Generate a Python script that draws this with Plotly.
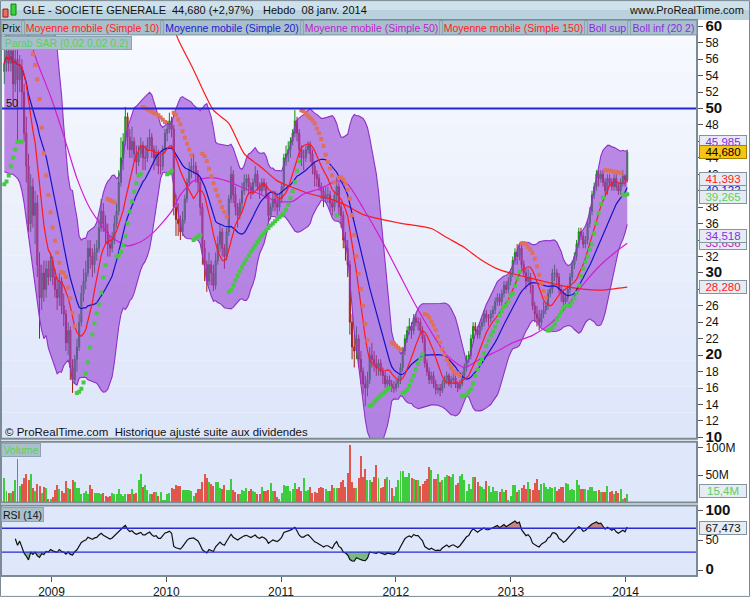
import numpy as np
import pandas as pd
import plotly.graph_objects as go
from plotly.subplots import make_subplots

# ---------------- weekly data ----------------
last_week = "2014-01-06"

opens = [
    54.5, 55.5, 57.0, 55.5, 57.0, 53.0, 56.0, 53.5, 55.0, 52.0,
    47.0, 43.0, 36.0, 40.5, 37.0, 38.5, 31.0, 27.0, 30.0, 28.0,
    30.5, 29.5, 31.5, 29.5, 28.0, 27.0, 29.0, 26.0, 25.0, 21.5,
    23.0, 18.5, 17.0, 19.5, 21.0, 24.0, 27.5, 29.0, 30.0, 33.0,
    32.0, 31.0, 32.5, 33.0, 35.5, 37.5, 36.0, 35.0, 33.5, 33.0,
    34.0, 36.0, 37.5, 41.0, 44.0, 46.0, 49.0, 46.5, 45.0, 46.0,
    44.5, 43.5, 44.5, 45.5, 44.0, 44.0, 45.5, 46.5, 45.0, 44.0,
    44.5, 43.0, 43.0, 45.0, 47.0, 47.5, 48.5, 47.5, 38.0, 36.5,
    36.0, 35.0, 36.5, 39.0, 41.0, 42.5, 43.0, 43.0, 42.0, 41.0,
    38.0, 33.0, 31.0, 29.0, 31.0, 30.0, 28.5, 31.5, 33.5, 35.0,
    33.0, 32.0, 35.0, 39.0, 42.0, 39.5, 38.0, 37.0, 38.5, 40.0,
    41.0, 41.5, 40.5, 40.0, 41.0, 42.0, 40.5, 40.0, 41.0, 40.5,
    39.5, 37.0, 38.0, 39.0, 38.5, 38.0, 39.0, 40.5, 44.0, 44.5,
    45.0, 46.0, 47.0, 48.5, 47.0, 45.0, 44.0, 44.0, 45.0, 45.5,
    44.5, 43.0, 42.0, 41.5, 40.5, 40.0, 39.0, 39.5, 39.5, 38.5,
    38.0, 39.5, 40.5, 38.0, 37.0, 34.0, 33.0, 31.0, 24.0, 21.0,
    20.5, 22.0, 19.5, 18.0, 16.5, 16.0, 17.0, 20.0, 19.5, 19.0,
    18.5, 19.0, 18.0, 17.5, 16.5, 17.0, 16.5, 16.0, 16.0, 16.5,
    17.0, 18.5, 20.5, 22.0, 23.0, 23.5, 23.0, 24.5, 24.0, 24.0,
    23.0, 22.0, 19.0, 18.0, 17.0, 17.5, 16.5, 15.8, 16.0, 15.7,
    16.5, 17.0, 17.5, 16.5, 17.0, 17.2, 16.5, 16.0, 16.5, 17.5,
    18.5, 19.5, 20.0, 22.0, 23.5, 23.0, 22.5, 23.5, 24.0, 25.0,
    24.5, 24.5, 25.0, 25.5, 26.5, 27.0, 26.5, 27.5, 28.5, 28.0,
    29.0, 30.0, 31.5, 32.5, 32.0, 33.0, 31.0, 30.0, 29.0, 29.5,
    28.5, 26.0, 25.0, 24.5, 24.0, 25.0, 25.5, 26.0, 27.5, 28.0,
    30.0, 30.0, 29.5, 28.0, 27.5, 26.5, 27.0, 28.0, 29.5, 31.0,
    32.0, 33.5, 35.0, 34.5, 33.5, 34.0, 36.0, 37.5, 39.5, 40.5,
    42.0, 41.5, 42.0, 41.0, 40.0, 41.5, 41.0, 40.5, 41.5, 40.5,
    40.0, 41.0, 41.8, 41.3,
]
highs = [
    57.5, 59.0, 60.5, 58.5, 58.0, 58.0, 57.5, 56.5, 56.0, 53.0,
    49.0, 44.5, 42.0, 41.5, 40.0, 39.5, 32.5, 31.0, 31.5, 31.5,
    31.5, 32.5, 32.0, 30.5, 29.5, 30.0, 29.5, 27.5, 25.5, 24.0,
    23.5, 19.5, 20.0, 22.0, 25.0, 28.5, 30.5, 31.5, 34.0, 34.0,
    33.0, 33.5, 34.0, 36.5, 39.0, 38.5, 37.0, 36.0, 34.5, 35.0,
    37.0, 38.5, 42.5, 46.5, 47.0, 50.2, 49.5, 47.5, 47.8, 46.5,
    45.5, 45.5, 46.5, 46.0, 45.5, 46.5, 47.5, 47.0, 45.5, 45.5,
    45.0, 44.5, 45.5, 47.5, 48.5, 49.5, 49.0, 48.0, 39.5, 38.5,
    37.0, 37.5, 39.5, 41.5, 43.5, 44.0, 44.5, 43.5, 42.5, 41.5,
    38.5, 34.0, 31.5, 32.5, 31.5, 31.0, 32.5, 34.5, 36.0, 35.5,
    33.5, 35.5, 39.5, 43.0, 42.5, 40.5, 38.5, 39.0, 41.0, 42.0,
    42.0, 42.0, 41.0, 41.5, 43.0, 42.5, 41.0, 41.5, 41.5, 41.0,
    39.5, 38.5, 40.0, 40.0, 39.5, 39.5, 41.0, 44.5, 45.5, 46.0,
    46.5, 47.5, 49.8, 49.0, 47.5, 45.5, 45.0, 45.5, 46.0, 46.0,
    45.0, 43.5, 42.5, 42.0, 41.0, 40.5, 40.5, 40.5, 40.0, 39.0,
    40.0, 41.6, 41.0, 38.5, 37.5, 35.0, 34.0, 31.5, 25.0, 22.5,
    23.5, 22.5, 20.5, 18.5, 17.5, 18.0, 21.0, 21.5, 20.5, 20.0,
    19.5, 19.5, 18.5, 18.0, 17.5, 17.5, 17.0, 16.8, 17.0, 17.5,
    19.0, 21.0, 22.5, 23.5, 24.5, 24.0, 25.0, 25.0, 24.6, 24.5,
    23.5, 22.5, 19.5, 18.5, 18.0, 18.0, 17.0, 16.5, 16.5, 17.0,
    17.5, 18.0, 17.8, 17.5, 17.8, 17.5, 16.8, 17.0, 18.0, 19.0,
    20.0, 20.5, 22.5, 24.0, 24.0, 23.5, 24.0, 24.5, 25.5, 25.5,
    25.0, 25.5, 26.0, 27.0, 27.5, 27.5, 28.0, 29.0, 29.0, 29.5,
    30.5, 32.0, 33.0, 33.5, 33.6, 33.5, 31.5, 30.5, 30.5, 30.0,
    28.5, 26.5, 26.0, 25.5, 25.5, 26.5, 26.5, 28.0, 28.5, 30.5,
    31.0, 30.5, 30.0, 28.5, 28.0, 27.5, 28.5, 30.0, 31.5, 32.5,
    34.0, 35.5, 35.5, 35.0, 34.5, 36.5, 38.0, 40.0, 41.0, 42.5,
    42.5, 42.5, 42.5, 41.5, 42.0, 42.0, 41.5, 42.0, 42.0, 41.0,
    41.5, 42.5, 42.0, 45.0,
]
lows = [
    53.0, 54.5, 54.5, 54.5, 51.0, 52.0, 46.0, 52.0, 50.0, 46.0,
    41.0, 35.0, 35.0, 35.5, 33.5, 29.5, 22.0, 25.5, 26.5, 27.0,
    28.5, 29.0, 28.5, 27.0, 25.5, 26.0, 25.0, 23.5, 20.5, 20.0,
    17.0, 15.4, 16.5, 18.0, 20.5, 23.5, 26.5, 28.0, 29.5, 30.5,
    29.5, 30.0, 31.5, 32.5, 35.0, 35.0, 33.5, 32.0, 32.0, 32.5,
    33.5, 35.5, 37.0, 40.5, 42.5, 45.5, 45.0, 44.0, 44.0, 43.5,
    42.0, 43.0, 44.0, 42.5, 42.5, 43.5, 45.0, 44.0, 42.5, 43.0,
    42.0, 42.0, 42.5, 44.5, 46.0, 47.0, 46.5, 37.0, 34.5, 34.5,
    34.0, 34.5, 36.0, 38.5, 40.5, 41.5, 42.0, 41.0, 40.0, 37.0,
    31.0, 29.0, 27.7, 28.5, 28.5, 27.8, 28.0, 31.0, 32.5, 32.0,
    30.5, 31.5, 34.5, 38.5, 38.5, 37.0, 35.5, 36.5, 37.5, 39.5,
    40.0, 39.5, 39.0, 39.5, 40.5, 40.0, 39.0, 39.5, 40.0, 39.0,
    36.0, 36.5, 37.5, 37.5, 37.0, 37.5, 38.5, 40.0, 43.0, 43.5,
    44.0, 45.5, 46.5, 46.0, 44.0, 43.0, 42.5, 43.5, 44.5, 43.5,
    42.0, 40.5, 40.5, 40.0, 39.0, 38.0, 38.5, 38.5, 37.5, 37.0,
    37.5, 38.5, 37.0, 35.5, 33.0, 31.5, 29.5, 22.5, 19.5, 18.5,
    19.5, 18.5, 16.5, 15.2, 13.8, 15.0, 16.5, 18.5, 18.0, 17.5,
    17.5, 17.5, 16.5, 16.0, 16.0, 16.0, 15.5, 15.4, 15.6, 16.0,
    16.5, 18.0, 20.0, 21.5, 22.5, 22.0, 22.5, 23.5, 23.0, 22.5,
    21.5, 18.5, 17.5, 16.5, 16.5, 16.0, 15.2, 15.3, 15.0, 15.4,
    16.0, 16.5, 16.2, 16.0, 16.5, 16.0, 15.5, 15.8, 16.2, 17.0,
    18.0, 19.0, 19.5, 21.5, 22.5, 22.0, 22.0, 23.0, 23.5, 24.0,
    23.5, 24.0, 24.5, 25.0, 26.0, 26.0, 26.0, 27.0, 27.5, 27.5,
    28.5, 29.5, 31.0, 31.0, 31.5, 30.5, 29.5, 28.0, 28.5, 27.5,
    25.5, 24.0, 23.5, 23.0, 23.5, 24.5, 25.0, 25.5, 27.0, 27.5,
    29.0, 28.5, 27.5, 26.5, 26.0, 26.0, 26.5, 27.5, 29.0, 30.5,
    31.5, 33.0, 34.0, 33.0, 33.0, 33.5, 35.5, 37.0, 39.0, 40.0,
    40.5, 41.0, 40.5, 39.5, 39.5, 40.5, 40.0, 40.0, 40.0, 39.5,
    39.5, 40.5, 40.5, 41.0,
]
closes = [
    55.5, 57.0, 55.5, 57.0, 53.0, 56.0, 53.5, 55.0, 52.0, 47.0,
    43.0, 36.0, 40.5, 37.0, 38.5, 31.0, 27.0, 30.0, 28.0, 30.5,
    29.5, 31.5, 29.5, 28.0, 27.0, 29.0, 26.0, 25.0, 21.5, 23.0,
    18.5, 17.0, 19.5, 21.0, 24.0, 27.5, 29.0, 30.0, 33.0, 32.0,
    31.0, 32.5, 33.0, 35.5, 37.5, 36.0, 35.0, 33.5, 33.0, 34.0,
    36.0, 37.5, 41.0, 44.0, 46.0, 49.0, 46.5, 45.0, 46.0, 44.5,
    43.5, 44.5, 45.5, 44.0, 44.0, 45.5, 46.5, 45.0, 44.0, 44.5,
    43.0, 43.0, 45.0, 47.0, 47.5, 48.5, 47.5, 38.0, 36.5, 36.0,
    35.0, 36.5, 39.0, 41.0, 42.5, 43.0, 43.0, 42.0, 41.0, 38.0,
    33.0, 31.0, 29.0, 31.0, 30.0, 28.5, 31.5, 33.5, 35.0, 33.0,
    32.0, 35.0, 39.0, 42.0, 39.5, 38.0, 37.0, 38.5, 40.0, 41.0,
    41.5, 40.5, 40.0, 41.0, 42.0, 40.5, 40.0, 41.0, 40.5, 39.5,
    37.0, 38.0, 39.0, 38.5, 38.0, 39.0, 40.5, 44.0, 44.5, 45.0,
    46.0, 47.0, 48.5, 47.0, 45.0, 44.0, 44.0, 45.0, 45.5, 44.5,
    43.0, 42.0, 41.5, 40.5, 40.0, 39.0, 39.5, 39.5, 38.5, 38.0,
    39.5, 40.5, 38.0, 37.0, 34.0, 33.0, 31.0, 24.0, 21.0, 20.5,
    22.0, 19.5, 18.0, 16.5, 16.0, 17.0, 20.0, 19.5, 19.0, 18.5,
    19.0, 18.0, 17.5, 16.5, 17.0, 16.5, 16.0, 16.0, 16.5, 17.0,
    18.5, 20.5, 22.0, 23.0, 23.5, 23.0, 24.5, 24.0, 24.0, 23.0,
    22.0, 19.0, 18.0, 17.0, 17.5, 16.5, 15.8, 16.0, 15.7, 16.5,
    17.0, 17.5, 16.5, 17.0, 17.2, 16.5, 16.0, 16.5, 17.5, 18.5,
    19.5, 20.0, 22.0, 23.5, 23.0, 22.5, 23.5, 24.0, 25.0, 24.5,
    24.5, 25.0, 25.5, 26.5, 27.0, 26.5, 27.5, 28.5, 28.0, 29.0,
    30.0, 31.5, 32.5, 32.0, 33.0, 31.0, 30.0, 29.0, 29.5, 28.5,
    26.0, 25.0, 24.5, 24.0, 25.0, 25.5, 26.0, 27.5, 28.0, 30.0,
    30.0, 29.5, 28.0, 27.5, 26.5, 27.0, 28.0, 29.5, 31.0, 32.0,
    33.5, 35.0, 34.5, 33.5, 34.0, 36.0, 37.5, 39.5, 40.5, 42.0,
    41.5, 42.0, 41.0, 40.0, 41.5, 41.0, 40.5, 41.5, 40.5, 40.0,
    41.0, 41.8, 41.3, 44.68,
]
volumes_millions = [
    45, 22, 18, 18, 22, 41, 80, 31, 35, 45, 53, 41, 53, 27, 22, 35, 31, 18, 28, 27,
    7, 6, 11, 24, 33, 25, 22, 18, 39, 27, 25, 41, 38, 27, 27, 16, 18, 22, 16, 33,
    25, 18, 18, 18, 15, 18, 13, 11, 13, 18, 15, 15, 25, 15, 13, 15, 16, 15, 25, 15,
    18, 42, 53, 28, 33, 24, 16, 16, 20, 20, 13, 20, 5, 4, 15, 18, 27, 25, 33, 30,
    30, 24, 24, 24, 23, 22, 13, 18, 25, 25, 38, 53, 45, 38, 35, 31, 38, 38, 27, 25,
    33, 24, 24, 44, 24, 20, 16, 16, 23, 22, 27, 22, 25, 22, 20, 15, 16, 28, 21, 21,
    24, 36, 22, 21, 11, 6, 18, 33, 30, 30, 22, 25, 36, 25, 28, 22, 45, 22, 24, 28,
    18, 20, 18, 27,
    28, 27, 25, 22, 22, 33, 27, 27, 27, 38, 42, 29, 55, 106, 38, 27, 27, 45, 86, 47,
    62, 41, 42, 38, 47, 68, 45, 27, 29, 44, 47, 41, 27, 13, 29, 41, 58, 57, 47, 47,
    55, 45, 44, 42, 41, 31, 35, 39, 44, 66, 59, 44, 44, 52, 38, 42, 47, 51, 49, 47,
    53, 33, 36, 49, 53, 41, 22, 35, 25, 47, 47, 38, 30, 28, 25, 40, 30, 20, 29, 22,
    22, 20, 25, 20, 24, 5, 13, 33, 33, 20, 24, 27, 33, 25, 38, 25, 24, 36, 44, 24,
    35, 36, 29, 25, 29, 27, 29, 22, 25, 29, 29, 36, 35, 24, 25, 24, 42, 33, 25, 25,
    25, 24, 29, 29, 22, 22, 24, 20, 20, 20, 31, 20, 22, 16, 22, 18, 25, 7, 9, 16,
]

# Bollinger band before 20 weeks of history exist
bb_upper_start = [64.0, 64.5, 65.0, 65.5, 66.0, 66.0, 66.5, 66.5, 67.0, 67.0,
                  67.5, 67.5, 68.0, 68.0, 68.0, 67.5, 67.5, 67.0, 66.5]
bb_lower_start = [42.3, 42.2, 42.1, 42.0, 42.0, 41.8, 41.5, 41.0, 40.0, 38.5,
                  36.5, 34.5, 32.0, 30.0, 28.0, 26.0, 24.5, 23.0, 22.0]

# long moving averages (week index, value)
ma50_week_index = [0, 8, 13, 15, 21, 27, 33, 39, 48, 56, 62, 68, 76, 80, 86, 94, 101,
                   109, 116, 124, 131, 136, 144, 151, 156, 163, 171, 179, 186, 194,
                   201, 209, 216, 224, 231, 240, 248, 256, 263, 271, 278, 283]
ma50_values = [64.0, 61.0, 57.2, 55.6, 51.5, 46.7, 41.5, 37.8, 34.5, 33.3, 33.8, 35.0,
               37.5, 39.5, 41.2, 41.6, 41.2, 40.3, 39.6, 38.7, 38.7, 39.6, 40.3, 41.2,
               40.8, 37.9, 34.2, 30.1, 26.5, 22.8, 20.0, 18.5, 19.5, 20.5, 21.5, 22.4,
               23.8, 26.1, 28.6, 31.0, 32.6, 33.6]
ma150_week_index = [71, 76, 79, 86, 95, 102, 109, 117, 124, 132, 139, 147, 154, 163,
                    179, 194, 201, 209, 216, 224, 231, 240, 256, 270, 283]
ma150_values = [63.0, 60.5, 58.4, 54.7, 49.8, 48.2, 44.5, 42.8, 41.2, 40.3, 39.6, 39.1,
                38.4, 37.1, 36.1, 35.4, 34.3, 33.1, 31.7, 30.5, 29.9, 29.3, 28.3, 27.9, 28.28]

sar_first_value = 40.8

year_ticks = ["2009-01-01", "2010-01-01", "2011-01-01", "2012-01-01", "2013-01-01", "2014-01-01"]
year_labels = ["2009", "2010", "2011", "2012", "2013", "2014"]
price_ticks = list(range(10, 61, 2))
volume_ticks = [50e6, 100e6]
volume_tick_labels = ["50M", "100M"]
rsi_ticks = [0, 50, 100]

label_texts = ["45,985", "40,122", "33,636", "44,680", "41,393", "39,265", "34,518", "28,280"]
label_levels = [45.985, 40.122, 33.636, 44.68, 41.393, 39.265, 34.518, 28.28]
label_colors = ["#8a2be2", "#2020c0", "#c020c0", "#000000", "#ff2020", "#5ad05a", "#8a2be2", "#ff2020"]

# ---------------- indicators ----------------
n = len(closes)
dates = pd.date_range(end=last_week, periods=n, freq="7D")
c = pd.Series(closes, dtype=float)
o = np.array(opens, dtype=float)
h = np.array(highs, dtype=float)
l = np.array(lows, dtype=float)

ma10 = c.rolling(10, min_periods=1).mean()
ma20 = c.rolling(20, min_periods=1).mean()
std20 = c.rolling(20).std(ddof=0)
bb_up = (c.rolling(20).mean() + 2 * std20).to_numpy()
bb_lo = (c.rolling(20).mean() - 2 * std20).to_numpy()
k = len(bb_upper_start)
bb_up[:k] = bb_upper_start
bb_lo[:k] = bb_lower_start


def parabolic_sar(hi, lo, first, step=0.02, mx=0.2):
    sar = [first]
    up = [True]
    long_ = True
    af = step
    ep = hi[0]
    for i in range(1, len(hi)):
        prev = sar[-1]
        s = prev + af * (ep - prev)
        if long_:
            s = min(s, lo[i - 1], lo[i - 2] if i > 1 else lo[i - 1])
            if lo[i] < s:
                long_ = False
                s = ep
                ep = lo[i]
                af = step
            elif hi[i] > ep:
                ep = hi[i]
                af = min(af + step, mx)
        else:
            s = max(s, hi[i - 1], hi[i - 2] if i > 1 else hi[i - 1])
            if hi[i] > s:
                long_ = True
                s = ep
                ep = hi[i]
                af = step
            elif lo[i] < ep:
                ep = lo[i]
                af = min(af + step, mx)
        sar.append(s)
        up.append(long_)
    return np.array(sar), np.array(up)


sar, sar_up = parabolic_sar(h, l, sar_first_value)

delta = c.diff()
gain = delta.clip(lower=0)
loss = (-delta).clip(lower=0)
ag = gain.ewm(alpha=1 / 14, adjust=True, min_periods=5).mean()
al = loss.ewm(alpha=1 / 14, adjust=True, min_periods=5).mean()
rsi = (100 - 100 / (1 + ag / al)).to_numpy()

vol = np.array(volumes_millions, dtype=float) * 1e6
up_candle = c.to_numpy() >= o
vol_colors = np.where(up_candle, "#3ccc3c", "#e0564a")

# ---------------- figure ----------------
PL, PR, PT, PB = 1, 697, 20, 580


def fx(px):
    return (px - PL) / (PR - PL)


def fy(py):
    return (PB - py) / (PB - PT)


fig = make_subplots(rows=3, cols=1, shared_xaxes=True, vertical_spacing=0.01)

# Bollinger bands
fig.add_trace(go.Scatter(x=dates, y=bb_up, mode="lines", line=dict(color="#9030c8", width=1.1),
                         hoverinfo="skip"), row=1, col=1)
fig.add_trace(go.Scatter(x=dates, y=bb_lo, mode="lines", line=dict(color="#9030c8", width=1.1),
                         fill="tonexty", fillcolor="rgba(148,64,212,0.6)", hoverinfo="skip"), row=1, col=1)

# candles
fig.add_trace(go.Candlestick(
    x=dates, open=o, high=h, low=l, close=c,
    increasing=dict(line=dict(color="#0f8a0f", width=1), fillcolor="#3cd23c"),
    decreasing=dict(line=dict(color="#a01e16", width=1), fillcolor="#e8705e"),
    whiskerwidth=0, hoverinfo="skip"), row=1, col=1)

# moving averages
fig.add_trace(go.Scatter(x=dates[ma150_week_index], y=ma150_values, mode="lines",
                         line=dict(color="#ff1a1a", width=1.2, shape="spline", smoothing=0.6)), row=1, col=1)
fig.add_trace(go.Scatter(x=dates[ma50_week_index], y=ma50_values, mode="lines",
                         line=dict(color="#d21ed2", width=1.2, shape="spline", smoothing=0.6)), row=1, col=1)
fig.add_trace(go.Scatter(x=dates, y=ma20, mode="lines", line=dict(color="#1414c8", width=1.2)), row=1, col=1)
fig.add_trace(go.Scatter(x=dates, y=ma10, mode="lines", line=dict(color="#ff1a1a", width=1.2)), row=1, col=1)

# parabolic SAR
fig.add_trace(go.Scatter(x=dates, y=sar, mode="markers",
                         marker=dict(symbol="square", size=4,
                                     color=np.where(sar_up, "#46c846", "#e0705e"), line=dict(width=0))),
              row=1, col=1)

# volume
fig.add_trace(go.Bar(x=dates, y=vol, marker=dict(color=vol_colors, line=dict(width=0)),
                     width=7 * 24 * 3600 * 1000 * 0.45), row=2, col=1)

# RSI with over-bought / over-sold shading
fig.add_trace(go.Scatter(x=dates, y=np.full(n, 30.0), mode="lines", line=dict(width=0), hoverinfo="skip"),
              row=3, col=1)
fig.add_trace(go.Scatter(x=dates, y=np.minimum(rsi, 30), mode="lines", line=dict(width=0),
                         fill="tonexty", fillcolor="rgba(90,170,90,0.75)", hoverinfo="skip"), row=3, col=1)
fig.add_trace(go.Scatter(x=dates, y=np.full(n, 70.0), mode="lines", line=dict(width=0), hoverinfo="skip"),
              row=3, col=1)
fig.add_trace(go.Scatter(x=dates, y=np.maximum(rsi, 70), mode="lines", line=dict(width=0),
                         fill="tonexty", fillcolor="rgba(190,110,110,0.8)", hoverinfo="skip"), row=3, col=1)
fig.add_trace(go.Scatter(x=dates, y=rsi, mode="lines", line=dict(color="#111111", width=1.2)), row=3, col=1)

xr = [dates[0] - pd.Timedelta(days=10.5), dates[0] + pd.Timedelta(days=7 * 314.7)]


def bold_big(v):
    return '<span style="font-size:15px"><b>%d</b></span>' % v


price_text = [bold_big(v) if v % 10 == 0 else str(v) for v in price_ticks]
rsi_text = [bold_big(v) if v != 50 else str(v) for v in rsi_ticks]

axis_common = dict(showgrid=False, zeroline=False, showline=False)
fig.update_xaxes(rangeslider_visible=False, range=xr, **axis_common)
fig.update_xaxes(showticklabels=False, ticks="", row=1, col=1)
fig.update_xaxes(showticklabels=False, ticks="", row=2, col=1)
fig.update_xaxes(tickvals=year_ticks, ticktext=year_labels, ticks="outside", ticklen=5,
                 tickcolor="#555", tickfont=dict(size=12, color="#111"), row=3, col=1)

fig.update_layout(
    width=750, height=600,
    margin=dict(l=PL, r=750 - PR, t=PT, b=600 - PB),
    paper_bgcolor="white", plot_bgcolor="rgba(0,0,0,0)",
    showlegend=False, bargap=0,
    font=dict(family="Liberation Sans, Arial, sans-serif", size=12, color="#111"),
    yaxis=dict(domain=[fy(441), 1], side="right", range=[9.83, 60.77], tickvals=price_ticks,
               ticktext=price_text, ticks="outside", ticklen=5, tickcolor="#555", **axis_common),
    yaxis2=dict(domain=[fy(505), fy(444)], side="right", range=[0, 110.9e6], tickvals=volume_ticks,
                ticktext=volume_tick_labels, ticks="outside", ticklen=5, tickcolor="#555", **axis_common),
    yaxis3=dict(domain=[fy(579), fy(508)], side="right", range=[-10, 108.3], tickvals=rsi_ticks,
                ticktext=rsi_text, ticks="outside", ticklen=5, tickcolor="#555", **axis_common),
)

shapes = []
# price panel gradient background
top_col = np.array([248, 250, 255])
bot_col = np.array([222, 230, 250])
bands = 16
for b in range(bands):
    t = (b + 0.5) / bands
    col = (top_col * (1 - t) + bot_col * t).astype(int)
    y0 = 20 + (441 - 20) * b / bands
    y1 = 20 + (441 - 20) * (b + 1) / bands
    shapes.append(dict(type="rect", xref="paper", yref="paper", x0=0, x1=1, y0=fy(y1), y1=fy(y0),
                       fillcolor="rgb(%d,%d,%d)" % tuple(col), line=dict(width=0), layer="below"))
for (a, bb) in [(444, 505), (508, 579)]:
    shapes.append(dict(type="rect", xref="paper", yref="paper", x0=0, x1=1, y0=fy(bb), y1=fy(a),
                       fillcolor="#dfe7fb", line=dict(width=0), layer="below"))
# header bar
shapes.append(dict(type="rect", xref="paper", yref="paper", x0=fx(0), x1=fx(750), y0=fy(10), y1=fy(0),
                   fillcolor="#cfe1ea", line=dict(width=0), layer="below"))
shapes.append(dict(type="rect", xref="paper", yref="paper", x0=fx(0), x1=fx(750), y0=fy(20), y1=fy(10),
                   fillcolor="#b9d2de", line=dict(width=0), layer="below"))
# legend rows background
shapes.append(dict(type="rect", xref="paper", yref="paper", x0=fx(0), x1=fx(697), y0=fy(35), y1=fy(20),
                   fillcolor="#a9c0cc", line=dict(color="#7d96a3", width=1), layer="above"))
# icon
shapes.append(dict(type="rect", xref="paper", yref="paper", x0=fx(3), x1=fx(8), y0=fy(17), y1=fy(9),
                   fillcolor="#e8705e", line=dict(color="#9a1a14", width=1)))
shapes.append(dict(type="rect", xref="paper", yref="paper", x0=fx(11), x1=fx(16), y0=fy(15), y1=fy(4),
                   fillcolor="#3cd23c", line=dict(color="#0f7f0f", width=1)))
# 50 line and RSI levels
shapes.append(dict(type="line", xref="paper", yref="y", x0=0, x1=1, y0=50, y1=50,
                   line=dict(color="#2424d4", width=2)))
for lv in (70, 30):
    shapes.append(dict(type="line", xref="paper", yref="y3", x0=0, x1=1, y0=lv, y1=lv,
                       line=dict(color="#2b2bd0", width=1.4)))
# panel borders
for (a, bb) in [(20, 441), (444, 505), (508, 579)]:
    shapes.append(dict(type="rect", xref="paper", yref="paper", x0=0, x1=1, y0=fy(bb), y1=fy(a),
                       line=dict(color="#7b8b96", width=2), fillcolor="rgba(0,0,0,0)", layer="above"))
shapes.append(dict(type="rect", xref="paper", yref="paper", x0=fx(0.5), x1=fx(749.5), y0=fy(599.5), y1=fy(0.5),
                   line=dict(color="#7b8b96", width=1), fillcolor="rgba(0,0,0,0)", layer="above"))
fig.update_layout(shapes=shapes)

ann = []


def txt(px, py, text, size=12, color="#111", xanchor="left", **kw):
    ann.append(dict(x=fx(px), y=fy(py), xref="paper", yref="paper", text=text, showarrow=False,
                    xanchor=xanchor, yanchor="middle", font=dict(size=size, color=color), **kw))


txt(21, 10, "GLE - SOCIETE GENERALE", size=11)
txt(170, 10, "44,680 (+2,97%)", size=11)
txt(261, 10, "Hebdo  08 janv. 2014", size=11)
txt(746, 10, "www.ProRealTime.com", size=11, xanchor="right")


def button(px0, px1, py0, py1, text, color):
    ann.append(dict(x=fx(px0), y=fy((py0 + py1) / 2), xref="paper", yref="paper", text=text,
                    showarrow=False, xanchor="left", yanchor="middle", align="center",
                    width=px1 - px0 - 2, height=py1 - py0 - 2, borderpad=0,
                    bgcolor="#a9c0cc", bordercolor="#8ba4b1", borderwidth=1,
                    font=dict(size=10.5, color=color)))


button(1, 22, 20, 35, "Prix", "#111")
button(24, 161, 20, 35, "Moyenne mobile (Simple 10)", "#ff2020")
button(163, 301, 20, 35, "Moyenne mobile (Simple 20)", "#2020d0")
button(303, 440, 20, 35, "Moyenne mobile (Simple 50)", "#c020d0")
button(442, 585, 20, 35, "Moyenne mobile (Simple 150)", "#ff2020")
button(587, 628, 20, 35, "Boll sup", "#8a2be2")
button(630, 697, 20, 35, "Boll inf (20 2)", "#8a2be2")
button(1, 132, 36, 50, "Parab SAR (0,02 0,02 0,2)", "#5ad05a")
button(1, 41, 445, 459, "Volume", "#5ad05a")
button(1, 44, 510, 525, "RSI (14)", "#111")

txt(4, 103, "50", size=11)
txt(3, 434, "© ProRealTime.com  Historique ajusté suite aux dividendes", size=11.5)

for t_, lv, col in zip(label_texts, label_levels, label_colors):
    gold = t_ == "44,680"
    ann.append(dict(x=fx(699), y=lv, xref="paper", yref="y", text=t_, showarrow=False,
                    xanchor="left", yanchor="middle", width=46, height=12, borderpad=0,
                    bgcolor="#f5c414" if gold else "#e6ecf3",
                    bordercolor="#a48000" if gold else "#8494a0", borderwidth=1,
                    font=dict(size=11.5, color=col)))
ann.append(dict(x=fx(699), y=15.4e6, xref="paper", yref="y2", text="15,4M", showarrow=False,
                xanchor="left", yanchor="middle", yshift=3, width=46, height=12, borderpad=0,
                bgcolor="#e6ecf3", bordercolor="#8494a0", borderwidth=1,
                font=dict(size=11.5, color="#5ad05a")))
ann.append(dict(x=fx(699), y=67.473, xref="paper", yref="y3", text="67,473", showarrow=False,
                xanchor="left", yanchor="middle", yshift=2, width=46, height=12, borderpad=0,
                bgcolor="#e6ecf3", bordercolor="#8494a0", borderwidth=1,
                font=dict(size=11.5, color="#111")))

fig.update_layout(annotations=ann)
fig.write_html("out.html", config={"displayModeBar": False},
               post_script="document.body.style.margin='0px';")
